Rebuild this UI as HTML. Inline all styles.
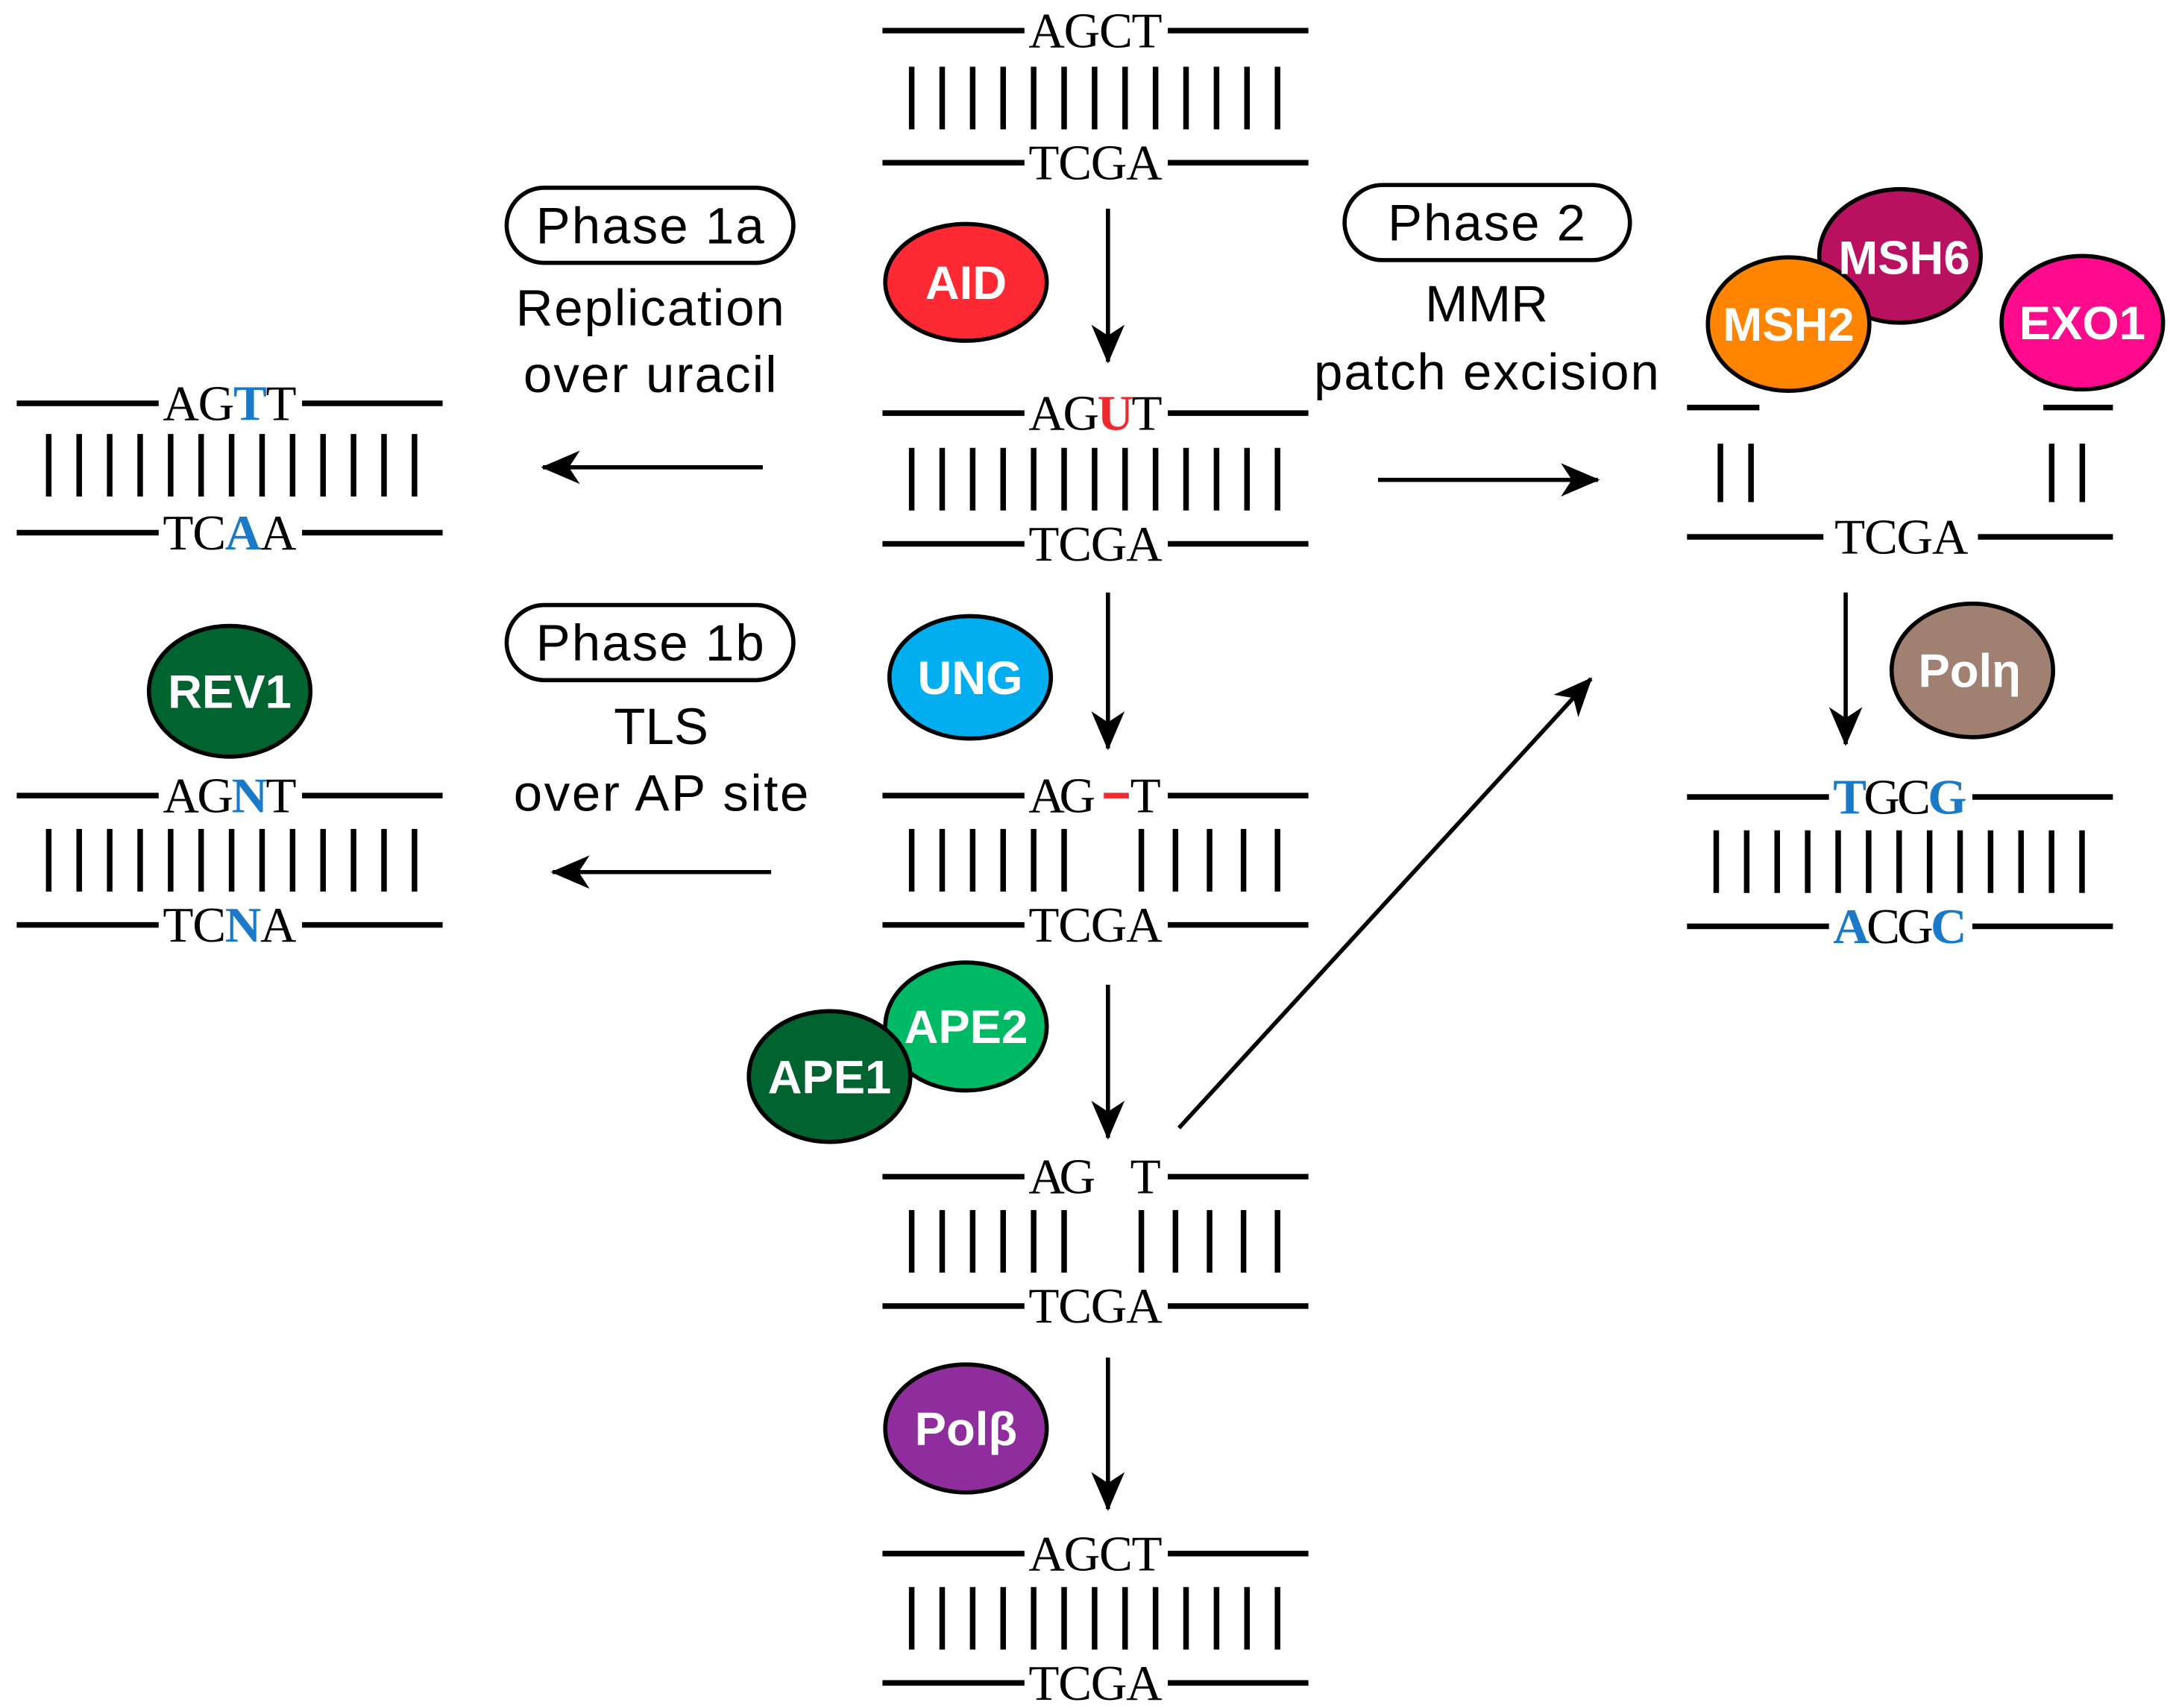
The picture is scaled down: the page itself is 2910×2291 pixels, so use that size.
<!DOCTYPE html>
<html><head><meta charset="utf-8"><style>
html,body{margin:0;padding:0;background:#fff}
svg{display:block}
.m{font-family:"Liberation Serif",serif;font-size:36px}
.s{font-family:"Liberation Sans",sans-serif}
.w{fill:#fff;font-weight:bold;font-size:34px;font-family:"Liberation Sans",sans-serif}
</style></head><body>
<svg width="2910" height="2291" viewBox="0 0 1559 1228" preserveAspectRatio="none" xmlns="http://www.w3.org/2000/svg">
<defs>
<marker id="a" markerWidth="28" markerHeight="24" refX="9.5" refY="5" orient="auto" markerUnits="userSpaceOnUse" viewBox="0 0 10 10" preserveAspectRatio="none"><path d="M0,0 L10,5 L0,10 L2.8,5 Z" fill="#000"/></marker>
<g id="bars13"><g stroke="#000" stroke-width="4">
<line x1="0" y1="0" x2="0" y2="45"/><line x1="21.9" y1="0" x2="21.9" y2="45"/><line x1="43.8" y1="0" x2="43.8" y2="45"/><line x1="65.7" y1="0" x2="65.7" y2="45"/><line x1="87.6" y1="0" x2="87.6" y2="45"/><line x1="109.5" y1="0" x2="109.5" y2="45"/><line x1="131.4" y1="0" x2="131.4" y2="45"/><line x1="153.3" y1="0" x2="153.3" y2="45"/><line x1="175.2" y1="0" x2="175.2" y2="45"/><line x1="197.1" y1="0" x2="197.1" y2="45"/><line x1="219" y1="0" x2="219" y2="45"/><line x1="240.9" y1="0" x2="240.9" y2="45"/><line x1="262.8" y1="0" x2="262.8" y2="45"/></g></g>
<g id="barsGap"><g stroke="#000" stroke-width="4">
<line x1="0" y1="0" x2="0" y2="45"/><line x1="21.9" y1="0" x2="21.9" y2="45"/><line x1="43.8" y1="0" x2="43.8" y2="45"/><line x1="65.7" y1="0" x2="65.7" y2="45"/><line x1="87.6" y1="0" x2="87.6" y2="45"/><line x1="109.5" y1="0" x2="109.5" y2="45"/><line x1="165" y1="0" x2="165" y2="45"/><line x1="189.5" y1="0" x2="189.5" y2="45"/><line x1="214" y1="0" x2="214" y2="45"/><line x1="238.4" y1="0" x2="238.4" y2="45"/><line x1="262.8" y1="0" x2="262.8" y2="45"/></g></g>
<g id="strands"><g stroke="#000" stroke-width="4"><line x1="0" y1="0" x2="102" y2="0"/><line x1="205" y1="0" x2="306" y2="0"/></g></g>
</defs>
<rect width="1559" height="1228" fill="#fff"/>

<!-- center column -->
<g transform="translate(634,0)">
 <use href="#strands" y="22"/><text class="m" x="153" y="34" text-anchor="middle" textLength="96">AGCT</text>
 <use href="#bars13" x="21" y="48"/>
 <use href="#strands" y="117"/><text class="m" x="153" y="129" text-anchor="middle" textLength="96">TCGA</text>

 <use href="#strands" y="297"/><text class="m" x="153" y="309" text-anchor="middle" textLength="96"><tspan>AG</tspan><tspan fill="#ee2a2f" font-weight="bold">U</tspan><tspan>T</tspan></text>
 <use href="#bars13" x="21" y="322"/>
 <use href="#strands" y="391"/><text class="m" x="153" y="403" text-anchor="middle" textLength="96">TCGA</text>

 <use href="#strands" y="572"/><text class="m" x="129" y="584" text-anchor="middle" textLength="48">AG</text><text class="m" x="189" y="584" text-anchor="middle">T</text>
 <line x1="159" y1="572" x2="177" y2="572" stroke="#ee2a2f" stroke-width="4"/>
 <use href="#barsGap" x="21" y="596"/>
 <use href="#strands" y="665"/><text class="m" x="153" y="677" text-anchor="middle" textLength="96">TCGA</text>

 <use href="#strands" y="846"/><text class="m" x="129" y="858" text-anchor="middle" textLength="48">AG</text><text class="m" x="189" y="858" text-anchor="middle">T</text>
 <use href="#barsGap" x="21" y="870"/>
 <use href="#strands" y="939"/><text class="m" x="153" y="951" text-anchor="middle" textLength="96">TCGA</text>

 <use href="#strands" y="1117"/><text class="m" x="153" y="1129" text-anchor="middle" textLength="96">AGCT</text>
 <use href="#bars13" x="21" y="1141"/>
 <use href="#strands" y="1210"/><text class="m" x="153" y="1222" text-anchor="middle" textLength="96">TCGA</text>
</g>

<!-- arrows -->
<g stroke="#000" stroke-width="3" marker-end="url(#a)" fill="none">
 <line x1="796" y1="150" x2="796" y2="260"/>
 <line x1="796" y1="426" x2="796" y2="538"/>
 <line x1="796" y1="708" x2="796" y2="818"/>
 <line x1="796" y1="976" x2="796" y2="1085"/>
 <line x1="548" y1="336" x2="390" y2="336"/>
 <line x1="554" y1="627" x2="397" y2="627"/>
 <line x1="990" y1="345" x2="1148" y2="345"/>
 <line x1="847" y1="811" x2="1143" y2="488"/>
 <line x1="1326" y1="426" x2="1326" y2="535"/>
</g>

<!-- left blocks -->
<g transform="translate(12,0)">
 <use href="#strands" y="290"/><text class="m" x="153" y="302" text-anchor="middle" textLength="96"><tspan>AG</tspan><tspan fill="#1a7ac8" font-weight="bold">T</tspan><tspan>T</tspan></text>
 <use href="#bars13" x="23" y="312"/>
 <use href="#strands" y="383"/><text class="m" x="153" y="395" text-anchor="middle" textLength="96"><tspan>TC</tspan><tspan fill="#1a7ac8" font-weight="bold">A</tspan><tspan>A</tspan></text>

 <use href="#strands" y="572"/><text class="m" x="153" y="584" text-anchor="middle" textLength="96"><tspan>AG</tspan><tspan fill="#1a7ac8" font-weight="bold">N</tspan><tspan>T</tspan></text>
 <use href="#bars13" x="23" y="596"/>
 <use href="#strands" y="665"/><text class="m" x="153" y="677" text-anchor="middle" textLength="96"><tspan>TC</tspan><tspan fill="#1a7ac8" font-weight="bold">N</tspan><tspan>A</tspan></text>
</g>

<!-- right blocks -->
<g stroke="#000" stroke-width="4">
 <line x1="1212" y1="293" x2="1264" y2="293"/><line x1="1468" y1="293" x2="1518" y2="293"/>
 <line x1="1236" y1="319" x2="1236" y2="361"/><line x1="1258" y1="319" x2="1258" y2="361"/>
 <line x1="1474" y1="319" x2="1474" y2="361"/><line x1="1496" y1="319" x2="1496" y2="361"/>
 <line x1="1212" y1="386" x2="1310" y2="386"/><line x1="1421" y1="386" x2="1518" y2="386"/>
</g>
<text class="m" x="1366" y="398" text-anchor="middle" textLength="96">TCGA</text>
<g transform="translate(1212,0)">
 <use href="#strands" y="573"/><text class="m" x="153" y="585" text-anchor="middle" textLength="96"><tspan fill="#1a7ac8" font-weight="bold">T</tspan><tspan>GC</tspan><tspan fill="#1a7ac8" font-weight="bold">G</tspan></text>
 <use href="#bars13" x="21" y="597"/>
 <use href="#strands" y="666"/><text class="m" x="153" y="678" text-anchor="middle" textLength="96"><tspan fill="#1a7ac8" font-weight="bold">A</tspan><tspan>CG</tspan><tspan fill="#1a7ac8" font-weight="bold">C</tspan></text>
</g>

<!-- phase labels -->
<g class="s" font-size="37" text-anchor="middle">
 <rect x="364" y="135" width="206" height="54" rx="27" fill="#fff" stroke="#000" stroke-width="3"/>
 <text x="467" y="175" textLength="164">Phase 1a</text>
 <text x="467" y="234" textLength="193">Replication</text>
 <text x="467" y="282" textLength="182">over uracil</text>
 <rect x="364" y="435" width="206" height="54" rx="27" fill="#fff" stroke="#000" stroke-width="3"/>
 <text x="467" y="475" textLength="164">Phase 1b</text>
 <text x="475" y="535">TLS</text>
 <text x="475" y="583" textLength="212">over AP site</text>
 <rect x="966" y="133" width="205" height="54" rx="27" fill="#fff" stroke="#000" stroke-width="3"/>
 <text x="1068" y="173" textLength="142">Phase 2</text>
 <text x="1068" y="231">MMR</text>
 <text x="1068" y="280" textLength="248">patch excision</text>
</g>

<!-- proteins -->
<g stroke="#000" stroke-width="3">
 <ellipse cx="694" cy="203" rx="58" ry="42" fill="#fe2a33"/>
 <ellipse cx="697" cy="487" rx="58" ry="44" fill="#02aeef"/>
 <ellipse cx="694" cy="738" rx="58" ry="46" fill="#00b964"/>
 <ellipse cx="596" cy="774" rx="58" ry="47" fill="#006330"/>
 <ellipse cx="694" cy="1027" rx="58" ry="46" fill="#8f2d9d"/>
 <ellipse cx="165" cy="497" rx="58" ry="47" fill="#006330"/>
 <ellipse cx="1365" cy="184" rx="58" ry="48" fill="#b8115f"/>
 <ellipse cx="1285" cy="233" rx="58" ry="48" fill="#ff8500"/>
 <ellipse cx="1496" cy="232" rx="58" ry="48" fill="#fe0a8c"/>
 <ellipse cx="1417" cy="482" rx="58" ry="48" fill="#a08070"/>
</g>
<g class="w" text-anchor="middle">
 <text x="694" y="215">AID</text>
 <text x="697" y="499">UNG</text>
 <text x="694" y="750">APE2</text>
 <text x="596" y="786">APE1</text>
 <text x="694" y="1039">Polβ</text>
 <text x="165" y="509">REV1</text>
 <text x="1368" y="197">MSH6</text>
 <text x="1285" y="245">MSH2</text>
 <text x="1496" y="244">EXO1</text>
 <text x="1415" y="494">Polη</text>
</g>
</svg>
</body></html>
